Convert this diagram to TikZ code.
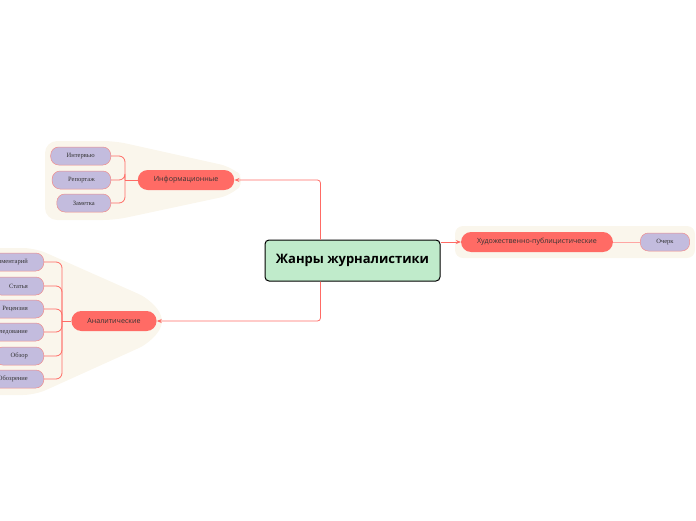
\documentclass[tikz,border=0pt]{standalone}
\usepackage{fontspec}
\setmainfont{Liberation Serif}
\newfontfamily\opensans{Open Sans}
\usetikzlibrary{arrows.meta, positioning}

\definecolor{rootfill}{HTML}{C0EBCB}
\definecolor{branchfill}{HTML}{FF6B65}
\definecolor{leaffill}{HTML}{C3BCDE}
\definecolor{leafline}{HTML}{F08C8C}
\definecolor{blobfill}{HTML}{FAF6EC}
\definecolor{linkred}{HTML}{FF6B65}
\definecolor{textdark}{HTML}{333333}

\begin{document}
\begin{tikzpicture}[
        x=1pt, y=-1pt,
        root/.style={draw=black, fill=rootfill, line width=1pt, rounded corners=4pt,
            minimum width=175pt, minimum height=41pt,
            font=\opensans\bfseries\fontsize{13}{15}\selectfont},
        branch/.style={fill=branchfill, rounded corners=10pt, minimum height=20pt,
            inner xsep=16pt, text=textdark, font=\opensans\fontsize{7.1}{8}\selectfont},
        leaf/.style={draw=leafline, fill=leaffill, line width=0.5pt, rounded corners=8pt,
            minimum height=18pt, inner xsep=16pt, text=textdark,
            font=\fontsize{6.5}{7.5}\selectfont},
        blob/.style={fill=blobfill, rounded corners=12pt},
        link/.style={draw=linkred, line width=0.8pt, rounded corners=6pt},
        arrowlink/.style={link, rounded corners=3pt, -{Stealth[length=5pt, width=4pt]}}
    ]

    \useasboundingbox (0,0) rectangle (696,520);

    % backgrounds of the groups
    \fill[blob] (45,141) -- (115,141) -- (232,167) -- (246,180) -- (232,195)
        -- (115,220) -- (45,220) -- cycle;
    \fill[blob] (-20,248) -- (35,248) -- (150,299) -- (166,321) -- (150,343)
        -- (35,395) -- (-20,395) -- cycle;
    \fill[blob, rounded corners=8pt] (455,226) rectangle (695,258);

    % central topic
    \node[root] (root) at (352.5,260.5) {Жанры журналистики};

    % main branches
    \node[branch] (info) at (186,180) {Информационные};
    \node[branch] (anal) at (114,321) {Аналитические};
    \node[branch] (hud) at (537,242) {Художественно-публицистические};

    % leaves
    \node[leaf, anchor=east] (interv) at (111,156) {Интервью};
    \node[leaf, anchor=east] (report) at (111,180) {Репортаж};
    \node[leaf, anchor=east] (zamet) at (111,203) {Заметка};

    \node[leaf, anchor=east] (komm) at (44,262) {Комментарий};
    \node[leaf, anchor=east] (stat) at (44,286) {Статья};
    \node[leaf, anchor=east] (rec) at (44,309) {Рецензия};
    \node[leaf, anchor=east] (issl) at (44,332) {Исследование};
    \node[leaf, anchor=east] (obz) at (44,356) {Обзор};
    \node[leaf, anchor=east] (obozr) at (44,379) {Обозрение};

    \node[leaf] (ocherk) at (665,242) {Очерк};

    % connectors from the centre
    \draw[arrowlink] ([xshift=-32pt]root.north) |- (info.east);
    \draw[arrowlink] ([xshift=-32pt]root.south) |- (anal.east);
    \draw[arrowlink] (root.east |- hud.west) -- (hud.west);
    \draw[link, draw=linkred!60] (hud.east) -- (ocherk.west);

    % brackets of the leaves
    \coordinate (infoj) at (125,180);
    \draw[link] (info.west) -- (infoj);
    \foreach \l in {interv, report, zamet}
        \draw[link] (\l.east) -| (infoj);

    \coordinate (analj) at (62,321);
    \draw[link] (anal.west) -- (analj);
    \foreach \l in {komm, stat, rec, issl, obz, obozr}
        \draw[link] (\l.east) -| (analj);
\end{tikzpicture}
\end{document}
